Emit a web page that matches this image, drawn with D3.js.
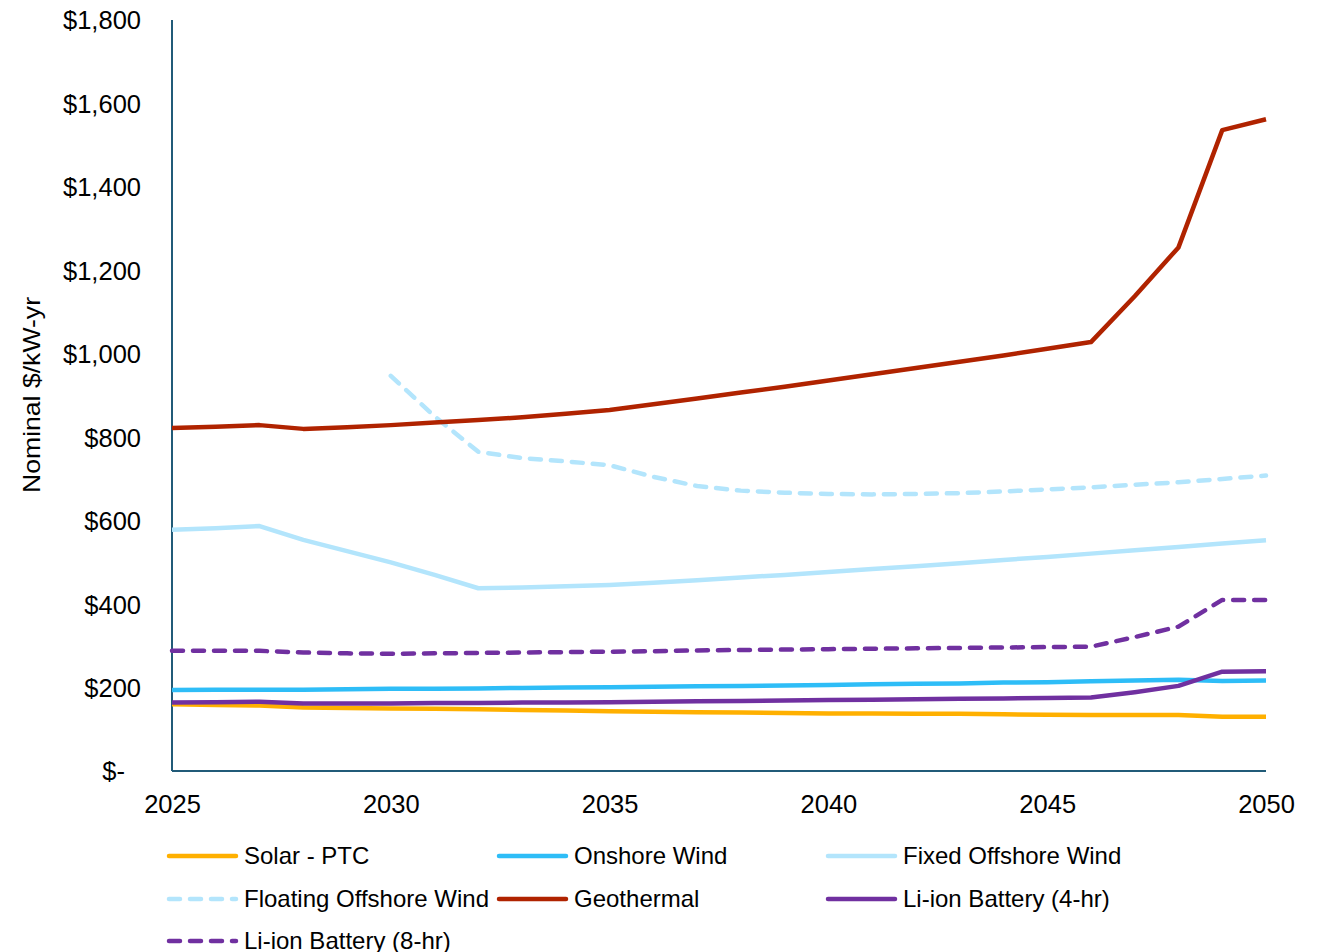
<!DOCTYPE html>
<html>
<head>
<meta charset="utf-8">
<script src="https://cdn.jsdelivr.net/npm/d3@7"></script>
<style>
  body { margin: 0; background: #ffffff; }
  text { font-family: "Liberation Sans", Arial, Helvetica, sans-serif; fill: #000000; }
</style>
</head>
<body>
<svg id="chart" width="1322" height="952"></svg>
<script>
(function() {

//------------------------------------------------------------------------------
//
// Data
//
//------------------------------------------------------------------------------

var years = [2025, 2026, 2027, 2028, 2029, 2030, 2031, 2032, 2033, 2034, 2035, 2036, 2037,
             2038, 2039, 2040, 2041, 2042, 2043, 2044, 2045, 2046, 2047, 2048, 2049, 2050];

var solarPtc = [160, 158, 157, 152, 151, 150, 149, 148, 146, 145, 143, 142, 141,
                140, 139, 138, 138, 137, 137, 136, 135, 134, 134, 134, 130, 130];

var onshoreWind = [194, 195, 195, 195, 196, 197, 197, 198, 199, 200, 201, 202, 203,
                   204, 205, 206, 208, 209, 210, 212, 213, 215, 217, 219, 216, 217];

var fixedOffshoreWind = [578, 582, 587, 554, 527, 500, 470, 438, 440, 443, 446, 451, 457,
                         464, 470, 477, 484, 491, 498, 506, 513, 521, 529, 537, 545, 553];

var floatingOffshoreWind = [null, null, null, null, null, 947, 850, 765, 750, 742, 733, 705, 683,
                            672, 667, 664, 663, 664, 666, 670, 675, 680, 686, 692, 700, 708];

var geothermal = [822, 825, 829, 820, 824, 829, 835, 841, 848, 856, 865, 879, 893,
                  907, 921, 936, 951, 966, 981, 996, 1012, 1028, 1138, 1255, 1536, 1562];

var liIon4hr = [164, 165, 166, 162, 162, 162, 163, 163, 164, 164, 165, 166, 167,
                168, 169, 170, 171, 172, 173, 174, 175, 176, 189, 204, 238, 239];

var liIon8hr = [288, 288, 288, 284, 282, 281, 282, 283, 284, 285, 286, 287, 289,
                290, 291, 292, 293, 294, 295, 296, 297, 298, 321, 346, 410, 410];

var yTicks = [0, 200, 400, 600, 800, 1000, 1200, 1400, 1600, 1800];
var xTicks = [2025, 2030, 2035, 2040, 2045, 2050];

var series = [
  {label: "Solar - PTC",            values: solarPtc,             color: "#ffb000", dashed: false},
  {label: "Onshore Wind",           values: onshoreWind,          color: "#2ebdf7", dashed: false},
  {label: "Fixed Offshore Wind",    values: fixedOffshoreWind,    color: "#b3e5fc", dashed: false},
  {label: "Floating Offshore Wind", values: floatingOffshoreWind, color: "#b3e5fc", dashed: true},
  {label: "Geothermal",             values: geothermal,           color: "#b02300", dashed: false},
  {label: "Li-ion Battery (4-hr)",  values: liIon4hr,             color: "#7030a0", dashed: false},
  {label: "Li-ion Battery (8-hr)",  values: liIon8hr,             color: "#7030a0", dashed: true}
];

//------------------------------------------------------------------------------
//
// Layout
//
//------------------------------------------------------------------------------

var plot = {left: 172, right: 1266, top: 20, bottom: 771};
var axisColor = "#215b78";
var lineWidth = 4.5;
var dash = "11,10";

var svg = d3.select("#chart");

var x = d3.scaleLinear().domain([2025, 2050]).range([plot.left, plot.right]);
var y = d3.scaleLinear().domain([0, 1800]).range([plot.bottom, plot.top]);

//--------------------------------------
// Axes
//--------------------------------------

var yAxis = d3.axisLeft(y)
  .tickValues(yTicks)
  .tickSize(0)
  .tickPadding(31)
  .tickFormat(function(d) { return d === 0 ? "$-" : "$" + d3.format(",")(d); });

var yg = svg.append("g")
  .attr("transform", "translate(" + plot.left + ",0)")
  .call(yAxis);
yg.select(".domain").remove();
yg.selectAll("text")
  .attr("font-size", "25.5px")
  .attr("font-family", null)
  .attr("dy", "0.35em")
  .attr("dx", function(d) { return d === 0 ? -16 : 0; });

var xAxis = d3.axisBottom(x)
  .tickValues(xTicks)
  .tickSize(0)
  .tickPadding(42)
  .tickFormat(d3.format("d"));

var xg = svg.append("g")
  .attr("transform", "translate(0," + plot.bottom + ")")
  .call(xAxis);
xg.select(".domain").remove();
xg.selectAll("text")
  .attr("font-size", "25.5px")
  .attr("font-family", null)
  .attr("dy", "0");

// axis lines
svg.append("line")
  .attr("x1", plot.left).attr("x2", plot.left)
  .attr("y1", y(1800)).attr("y2", y(0))
  .attr("stroke", axisColor).attr("stroke-width", 2);
svg.append("line")
  .attr("x1", plot.left).attr("x2", plot.right)
  .attr("y1", y(0)).attr("y2", y(0))
  .attr("stroke", axisColor).attr("stroke-width", 2);

svg.append("text")
  .attr("transform", "translate(40," + 395 + ") rotate(-90)")
  .attr("text-anchor", "middle")
  .attr("font-size", "24px")
  .attr("textLength", 196)
  .attr("lengthAdjust", "spacingAndGlyphs")
  .text("Nominal $/kW-yr");

//--------------------------------------
// Lines
//--------------------------------------

var line = d3.line()
  .defined(function(d) { return d != null; })
  .x(function(d, i) { return x(years[i]); })
  .y(function(d) { return y(d); });

svg.append("g").selectAll("path")
  .data(series)
  .enter().append("path")
    .attr("d", function(s) { return line(s.values); })
    .attr("fill", "none")
    .attr("stroke", function(s) { return s.color; })
    .attr("stroke-width", lineWidth)
    .attr("stroke-linejoin", "round")
    .attr("stroke-linecap", function(s) { return s.dashed ? "round" : "butt"; })
    .attr("stroke-dasharray", function(s) { return s.dashed ? dash : null; });

//--------------------------------------
// Legend
//--------------------------------------

var legendCols = [167, 497, 826];
var legendRows = [856, 899, 941];

var legend = svg.append("g").selectAll("g")
  .data(series)
  .enter().append("g")
    .attr("transform", function(s, i) {
      return "translate(" + legendCols[i % 3] + "," + legendRows[Math.floor(i / 3)] + ")";
    });

legend.append("line")
  .attr("x1", 2).attr("x2", 69)
  .attr("stroke", function(s) { return s.color; })
  .attr("stroke-width", lineWidth)
  .attr("stroke-linecap", "round")
  .attr("stroke-dasharray", function(s) { return s.dashed ? dash : null; });

legend.append("text")
  .attr("x", 77)
  .attr("y", 8)
  .attr("font-size", "24px")
  .text(function(s) { return s.label; });

})();
</script>
</body>
</html>
